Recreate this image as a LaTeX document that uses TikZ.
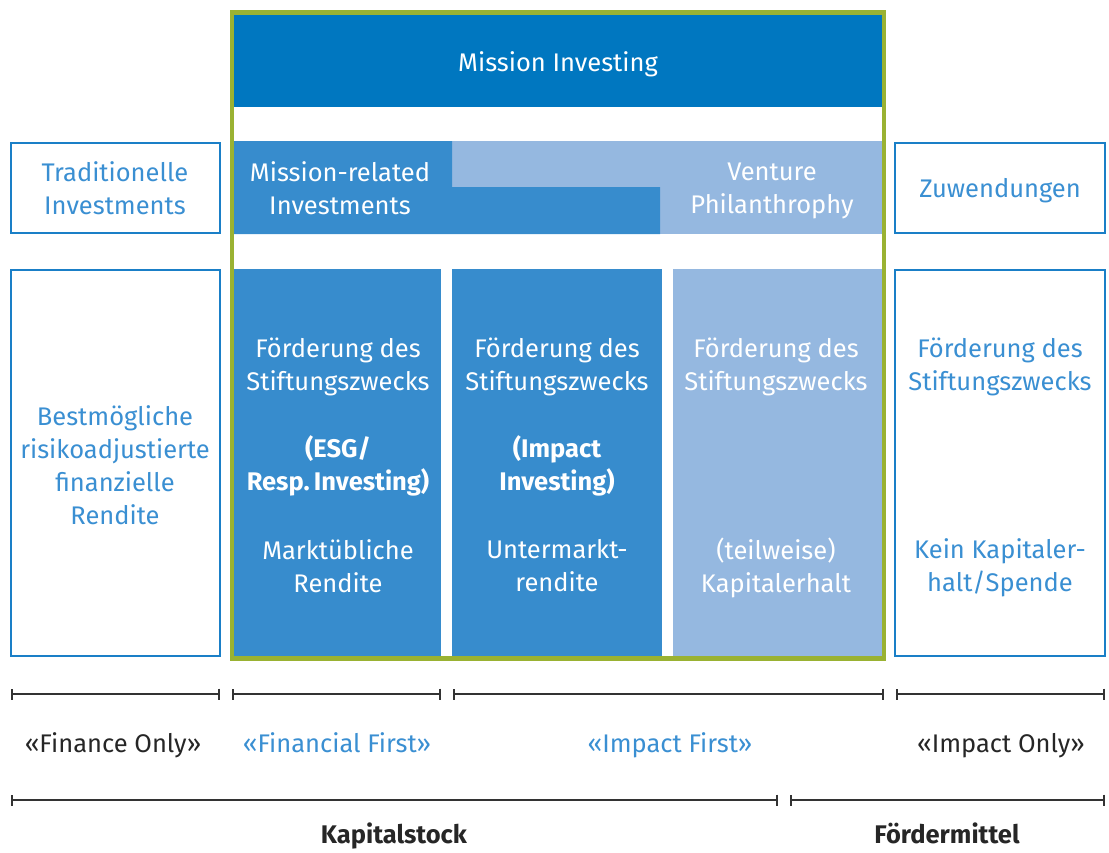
\documentclass[tikz,border=0pt]{standalone}
\usepackage{fontspec}
\setmainfont{Fira Sans}
\usetikzlibrary{arrows.meta}
\definecolor{darkb}{HTML}{0077C0}
\definecolor{midb}{HTML}{378CCD}
\definecolor{lightb}{HTML}{95B8E0}
\definecolor{frameg}{HTML}{9AB232}
\definecolor{txtb}{HTML}{3A8FD2}
\definecolor{lineb}{HTML}{1A7FC7}
\definecolor{bar}{HTML}{333333}
\tikzset{
  x=1pt, y=-1pt,
  every node/.style={font=\fontsize{25.5}{33}\selectfont, align=center, inner sep=0pt},
  boldtxt/.style={font=\bfseries\fontsize{25.5}{33}\selectfont},
  wtxt/.style={text=white},
  btxt/.style={text=txtb},
  ktxt/.style={text=black!85},
  outbox/.style={draw=lineb, line width=2.2pt},
  scalebar/.style={draw=bar, line width=2pt, {Bar[width=11pt,line width=2pt]}-{Bar[width=11pt,line width=2pt]}},
}
\begin{document}
\begin{tikzpicture}
\useasboundingbox (0,0) rectangle (1109,852);
% Mission Investing header
\fill[darkb] (234,15) rectangle (882,107);
\node[wtxt, anchor=base] (mi) at (558,71) {Mission Investing};
% middle band
\fill[lightb] (452,141) rectangle (882,234);
\fill[midb] (234,141) -- (452,141) -- (452,187) -- (660,187) -- (660,234) -- (234,234) -- cycle;
\node[wtxt] (mri) at (340,188) {Mission-related\\Investments};
\node[wtxt] (vp) at (772,190.5) {Venture\\Philanthrophy};
% columns
\fill[midb] (234,269) rectangle (441,656);
\fill[midb] (452,269) rectangle (662,656);
\fill[lightb] (673,269) rectangle (882,656);
\node[wtxt] (c1a) at (338,367) {Förderung des\\Stiftungszwecks};
\node[wtxt, boldtxt] (c1b) at (338,466) {(ESG/\\Resp.\,Investing)};
\node[wtxt] (c1c) at (338,566) {Marktübliche\\Rendite};
\node[wtxt] (c2a) at (557,367) {Förderung des\\Stiftungszwecks};
\node[wtxt, boldtxt] (c2b) at (557,466) {(Impact\\Investing)};
\node[wtxt] (c2c) at (557,566) {Untermarkt-\\rendite};
\node[wtxt] (c3a) at (776,367) {Förderung des\\Stiftungszwecks};
\node[wtxt] (c3c) at (776,567.5) {(teilweise)\\Kapitalerhalt};
% green frame
\draw[frameg, line width=4.5pt] (232,12.5) rectangle (884,658.5);
% side boxes
\draw[outbox] (11,143) rectangle (220,233);
\node[btxt] (ti) at (115,188) {Traditionelle\\Investments};
\draw[outbox] (11,270) rectangle (220,656);
\node[btxt] (br) at (115,465) {Bestmögliche\\risikoadjustierte\\finanzielle\\Rendite};
\draw[outbox] (895,143) rectangle (1105,233);
\node[btxt, anchor=base] (zw) at (1000,197) {Zuwendungen};
\draw[outbox] (895,270) rectangle (1105,656);
\node[btxt] (r1) at (1000,367) {Förderung des\\Stiftungszwecks};
\node[btxt] (r2) at (1000,567.5) {Kein Kapitaler-\\halt/Spende};
% scale bars row 1
\coordinate (a0) at (11,694); \coordinate (a1) at (220,694);
\coordinate (b0) at (232,694); \coordinate (b1) at (441,694);
\coordinate (c0) at (453,694); \coordinate (c1) at (884,694);
\coordinate (d0) at (896,694); \coordinate (d1) at (1105,694);
\draw[scalebar] (a0) -- (a1);
\draw[scalebar] (b0) -- (b1);
\draw[scalebar] (c0) -- (c1);
\draw[scalebar] (d0) -- (d1);
\node[ktxt, anchor=base] (fo) at (113,752) {«Finance Only»};
\node[btxt, anchor=base] (ff) at (337,752) {«Financial First»};
\node[btxt, anchor=base] (if) at (670,752) {«Impact First»};
\node[ktxt, anchor=base] (io) at (1001,752) {«Impact Only»};
% scale bars row 2
\coordinate (e0) at (11,800); \coordinate (e1) at (778,800);
\coordinate (f0) at (790,800); \coordinate (f1) at (1105,800);
\draw[scalebar] (e0) -- (e1);
\draw[scalebar] (f0) -- (f1);
\node[ktxt, boldtxt, anchor=base] (ks) at (394,843) {Kapitalstock};
\node[ktxt, boldtxt, anchor=base] (fm) at (947,843) {Fördermittel};
\end{tikzpicture}
\end{document}
